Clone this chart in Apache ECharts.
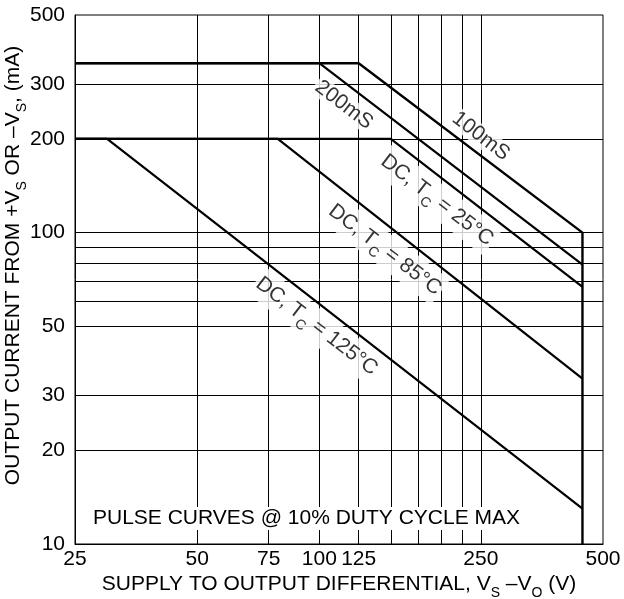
<!DOCTYPE html>
<html>
<head>
<meta charset="utf-8">
<title>Safe operating area</title>
<script src="https://cdn.jsdelivr.net/npm/echarts@6/dist/echarts.min.js"></script>
<style>
  html, body { margin: 0; padding: 0; background: #fff; }
  #main { width: 624px; height: 599px; }
</style>
</head>
<body>
<div id="main"></div>
<script>
// axis ticks and grid lines
const xTickLabels = [25, 50, 75, 100, 125, 250, 500];
const xGridLines = [50, 75, 100, 125, 150, 175, 200, 225, 250];
const yTickLabels = [10, 20, 30, 50, 100, 200, 300, 500];
const yGridLines = [20, 30, 50, 60, 70, 80, 90, 100, 200, 300];

// curves [V, mA]
const pulse100ms = [[25, 350], [125, 350], [445, 100], [445, 10]];
const pulse200ms = [[25, 350], [100, 350], [445, 79]];
const dc25 = [[25, 200], [150, 200], [445, 67]];
const dc85 = [[25, 200], [79, 200], [445, 34]];
const dc125 = [[25, 200], [30, 200], [445, 13]];

// curve captions [V, mA, text]
const curveLabels = [
  [115, 257, '200mS'],
  [250, 204, '100mS'],
  [195, 127, 'DC, T{sub|C} = 25°C'],
  [145, 88, 'DC, T{sub|C} = 85°C'],
  [98.5, 50, 'DC, T{sub|C} = 125°C']
];
const noteText = 'PULSE CURVES @ 10% DUTY CYCLE MAX';

const font = "'Liberation Sans', Arial, sans-serif";
const subStyle = { fontSize: 14, fontFamily: font, color: '#000', verticalAlign: 'bottom', lineHeight: 32 };

let chart = echarts.init(document.getElementById('main'));

function curve(name, data, width) {
  return {
    name: name,
    type: 'line',
    data: data,
    symbol: 'none',
    z: 3,
    lineStyle: { color: '#000', width: width || 2.2 },
    animation: false
  };
}

let option = {
  backgroundColor: '#fff',
  animation: false,
  grid: {
    left: 75, right: 21, top: 15, bottom: 55,
    outerBoundsMode: 'none', containLabel: false,
    show: true, borderColor: '#000', borderWidth: 1
  },
  xAxis: {
    type: 'log',
    logBase: 10,
    min: 25,
    max: 500,
    name: 'SUPPLY TO OUTPUT DIFFERENTIAL, V{sub|S} –V{sub|O} (V)',
    nameLocation: 'middle',
    nameGap: 24,
    nameMoveOverlap: false,
    nameTextStyle: { fontSize: 21, fontFamily: font, color: '#000', rich: { sub: subStyle } },
    axisLine: { show: true, lineStyle: { color: '#000', width: 1 } },
    axisTick: { show: false },
    splitLine: { show: false },
    axisLabel: { customValues: xTickLabels, fontSize: 21, fontFamily: font, color: '#000', margin: 5 }
  },
  yAxis: {
    type: 'log',
    logBase: 10,
    min: 10,
    max: 500,
    name: 'OUTPUT CURRENT FROM +V{sub|S} OR –V{sub|S}, (mA)',
    nameLocation: 'middle',
    nameGap: 46,
    nameMoveOverlap: false,
    nameTextStyle: { fontSize: 21, fontFamily: font, color: '#000', padding: [0, 0, 0, 28], rich: { sub: subStyle } },
    axisLine: { show: true, lineStyle: { color: '#000', width: 1 } },
    axisTick: { show: false },
    splitLine: { show: false },
    axisLabel: { customValues: yTickLabels, fontSize: 21, fontFamily: font, color: '#000', margin: 10 }
  },
  series: [
    {
      name: 'grid',
      type: 'line',
      data: [],
      z: 1,
      markLine: {
        silent: true,
        symbol: 'none',
        label: { show: false },
        lineStyle: { color: '#000', width: 1, type: 'solid' },
        data: xGridLines.map(v => ({ xAxis: v })).concat(yGridLines.map(v => ({ yAxis: v })))
      }
    },
    curve('100mS', pulse100ms, 2.4),
    curve('200mS', pulse200ms),
    curve('DC 25', dc25),
    curve('DC 85', dc85),
    curve('DC 125', dc125),
    {
      name: 'captions',
      type: 'scatter',
      symbolSize: 0,
      z: 5,
      data: curveLabels,
      label: {
        show: true,
        position: 'inside',
        rotate: -37.5,
        formatter: p => p.data[2],
        fontSize: 21,
        fontFamily: font,
        color: '#000',
        backgroundColor: '#fff',
        padding: [0, 2],
        rich: { sub: subStyle }
      }
    }
  ],
  graphic: [
    {
      type: 'text',
      left: 91,
      top: 507,
      z: 10,
      style: {
        text: noteText,
        font: '21px ' + font,
        fill: '#000',
        backgroundColor: '#fff',
        padding: [1, 2]
      }
    }
  ]
};

chart.setOption(option);
</script>
</body>
</html>
